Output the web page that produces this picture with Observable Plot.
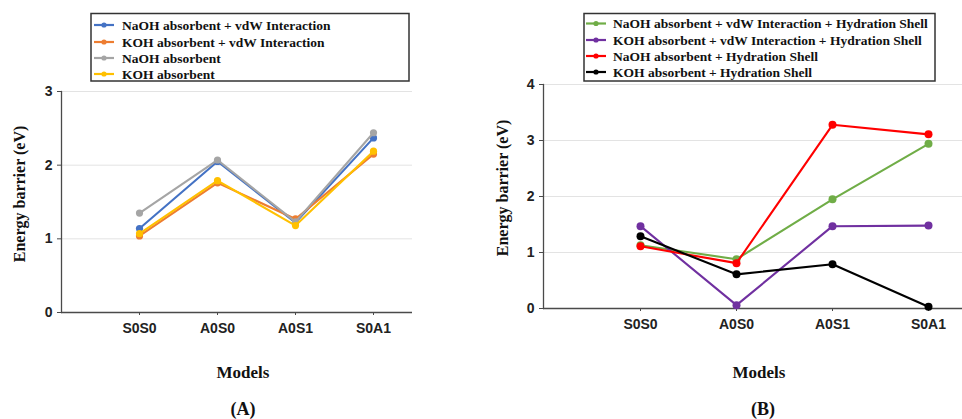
<!DOCTYPE html>
<html>
<head>
<meta charset="utf-8">
<script src="https://cdn.jsdelivr.net/npm/d3@7"></script>
<script src="https://cdn.jsdelivr.net/npm/@observablehq/plot@0.6"></script>
<style>
  html, body { margin: 0; padding: 0; background: #fff; }
  #wrap { position: relative; width: 962px; height: 419px; overflow: hidden; background: #fff; }
  #wrap > .panel { position: absolute; top: 0; }
  #overlay { position: absolute; left: 0; top: 0; pointer-events: none; }
</style>
</head>
<body>
<div id="wrap"></div>
<script>
// ---- data ----
const models = ["S0S0", "A0S0", "A0S1", "S0A1"];

const seriesA = [
  "NaOH absorbent + vdW Interaction",
  "KOH absorbent + vdW Interaction",
  "NaOH absorbent",
  "KOH absorbent"
];
const colorsA = ["#4472C4", "#ED7D31", "#A5A5A5", "#FFC000"];
const naohVdw = [1.14, 2.05, 1.22, 2.37];
const kohVdw = [1.04, 1.76, 1.27, 2.15];
const naoh = [1.35, 2.07, 1.23, 2.44];
const koh = [1.07, 1.79, 1.18, 2.19];
const valuesA = [naohVdw, kohVdw, naoh, koh];
const yTicksA = [0, 1, 2, 3];

const seriesB = [
  "NaOH absorbent + vdW Interaction + Hydration Shell",
  "KOH absorbent + vdW Interaction + Hydration Shell",
  "NaOH absorbent + Hydration Shell",
  "KOH absorbent + Hydration Shell"
];
const colorsB = ["#70AD47", "#7030A0", "#FF0000", "#000000"];
const naohVdwHyd = [1.13, 0.88, 1.95, 2.94];
const kohVdwHyd = [1.47, 0.06, 1.47, 1.48];
const naohHyd = [1.11, 0.81, 3.28, 3.11];
const kohHyd = [1.29, 0.61, 0.79, 0.03];
const valuesB = [naohVdwHyd, kohVdwHyd, naohHyd, kohHyd];
const yTicksB = [0, 1, 2, 3, 4];

const xTitle = "Models";
const yTitle = "Energy barrier (eV)";
const panelLabels = ["(A)", "(B)"];

function rows(series, values) {
  return series.flatMap((s, i) => models.map((m, j) => ({series: s, model: m, value: values[i][j]})));
}

function panel({series, colors, values, yTicks, width, marginLeft, marginRight, marginTop, marginBottom, xRange, r}) {
  const data = rows(series, values);
  const seriesMarks = series.flatMap(s => {
    const d = data.filter(e => e.series === s);
    return [
      Plot.line(d, {x: "model", y: "value", stroke: "series", strokeWidth: 2.1}),
      Plot.dot(d, {x: "model", y: "value", fill: "series", r})
    ];
  });
  return Plot.plot({
    width, height: 419,
    marginLeft, marginRight, marginTop, marginBottom,
    style: {fontFamily: "Liberation Sans, Arial, sans-serif", fontSize: "14px", background: "transparent", overflow: "visible"},
    x: {type: "point", domain: models, range: xRange, padding: 0, label: null},
    y: {domain: [yTicks[0], yTicks[yTicks.length - 1]], label: null},
    color: {domain: series, range: colors},
    marks: [
      Plot.gridY(yTicks.slice(1), {stroke: "#e3e3e3", strokeOpacity: 1, strokeWidth: 1}),
      Plot.ruleY([0], {stroke: "#4a4a4a", strokeWidth: 1.3}),
      Plot.frame({anchor: "left", stroke: "#4a4a4a", strokeWidth: 1.3}),
      Plot.axisY(yTicks, {tickSize: 4, tickPadding: 5, tickFormat: d => String(d), fontWeight: "bold", fontSize: 14, fill: "#222", stroke: "#4a4a4a", label: null}),
      Plot.axisX(models, {tickSize: 3, tickPadding: 8, fontWeight: "bold", fontSize: 14, fill: "#222", stroke: "#4a4a4a", label: null}),
      ...seriesMarks
    ]
  });
}

const wrap = document.getElementById("wrap");

const pA = panel({series: seriesA, colors: colorsA, values: valuesA, yTicks: yTicksA,
  width: 480, marginLeft: 61, marginRight: 68, marginTop: 91, marginBottom: 107, xRange: [139, 373], r: 3.6});
pA.classList.add("panel");
pA.style.left = "0px";
wrap.appendChild(pA);

const pB = panel({series: seriesB, colors: colorsB, values: valuesB, yTicks: yTicksB,
  width: 482, marginLeft: 63, marginRight: 0, marginTop: 84, marginBottom: 111, xRange: [160, 448], r: 4});
pB.classList.add("panel");
pB.style.left = "480px";
wrap.appendChild(pB);

// ---- overlay: legends, axis titles, panel labels ----
const svg = d3.select(wrap).append("svg")
  .attr("id", "overlay").attr("width", 962).attr("height", 419);

const serif = "Liberation Serif, Times New Roman, serif";

function legend({x0, y0, w, h, series, colors, lineX0, lineX1, textX, rowY}) {
  svg.append("rect").attr("x", x0).attr("y", y0).attr("width", w).attr("height", h)
    .attr("fill", "#fff").attr("stroke", "#333").attr("stroke-width", 1.5);
  series.forEach((s, i) => {
    const y = rowY[i];
    svg.append("line").attr("x1", lineX0).attr("x2", lineX1).attr("y1", y).attr("y2", y)
      .attr("stroke", colors[i]).attr("stroke-width", 2.2);
    svg.append("circle").attr("cx", (lineX0 + lineX1) / 2).attr("cy", y).attr("r", 2.6).attr("fill", colors[i]);
    svg.append("text").attr("x", textX).attr("y", y).attr("dy", "0.35em")
      .attr("font-family", serif).attr("font-weight", "bold").attr("font-size", 13.5)
      .attr("fill", "#111").text(s);
  });
}

legend({x0: 91, y0: 13.5, w: 318, h: 67.5, series: seriesA, colors: colorsA,
  lineX0: 94, lineX1: 114, textX: 122, rowY: [25, 42, 58, 74]});
legend({x0: 584, y0: 13.5, w: 351, h: 67.5, series: seriesB, colors: colorsB,
  lineX0: 586, lineX1: 606, textX: 613, rowY: [23.5, 40, 56, 72]});

function ytitle(x, y) {
  svg.append("text").attr("transform", `translate(${x},${y}) rotate(-90)`)
    .attr("text-anchor", "middle").attr("dy", "0.35em")
    .attr("font-family", serif).attr("font-weight", "bold").attr("font-size", 16)
    .attr("fill", "#111").text(yTitle);
}
ytitle(19, 194);
ytitle(502, 188);

function label(x, y, t, size) {
  svg.append("text").attr("x", x).attr("y", y).attr("dy", "0.35em").attr("text-anchor", "middle")
    .attr("font-family", serif).attr("font-weight", "bold").attr("font-size", size)
    .attr("fill", "#111").text(t);
}
label(243, 372, xTitle, 17);
label(759, 372, xTitle, 17);
label(243, 409, panelLabels[0], 18);
label(763, 409, panelLabels[1], 18);
</script>
</body>
</html>
